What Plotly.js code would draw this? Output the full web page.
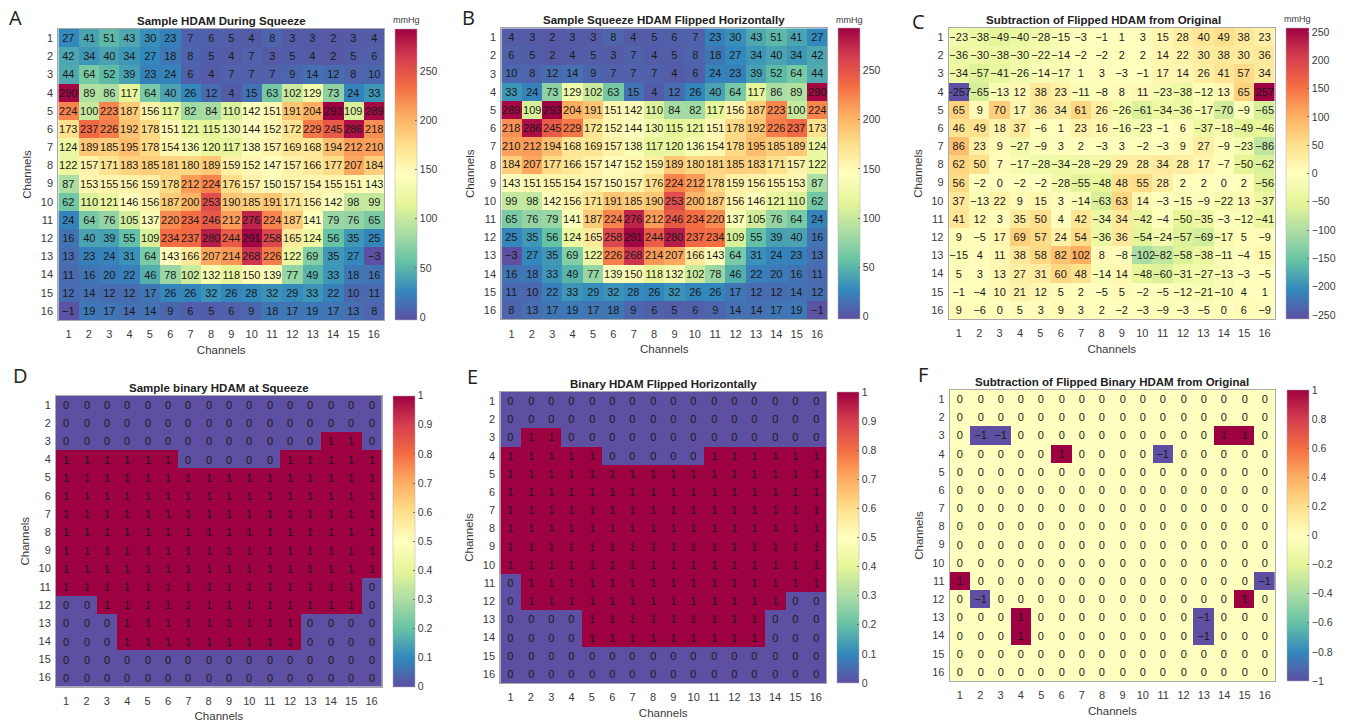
<!DOCTYPE html>
<html><head><meta charset="utf-8">
<script src="https://cdn.plot.ly/plotly-3.0.1.min.js"></script>
<style>html,body{margin:0;padding:0;background:#fff}#chart{width:1345px;height:722px}</style>
</head><body><div id="chart"></div>
<script>
const channels = [1,2,3,4,5,6,7,8,9,10,11,12,13,14,15,16];

const squeezeOriginal = [
[27,41,51,43,30,23,7,6,5,4,8,3,3,2,3,4],
[42,34,40,34,27,18,8,5,4,7,3,5,4,2,5,6],
[44,64,52,39,23,24,6,4,7,7,7,9,14,12,8,10],
[290,89,86,117,64,40,26,12,4,15,63,102,129,73,24,33],
[224,100,223,187,156,117,82,84,110,142,151,191,204,293,109,289],
[173,237,226,192,178,151,121,115,130,144,152,172,229,245,286,218],
[124,189,185,195,178,154,136,120,117,138,157,169,168,194,212,210],
[122,157,171,183,185,181,180,189,159,152,147,157,166,177,207,184],
[87,153,155,156,159,178,212,224,176,157,150,157,154,155,151,143],
[62,110,121,146,156,187,200,253,190,185,191,171,156,142,98,99],
[24,64,76,105,137,220,234,246,212,276,224,187,141,79,76,65],
[16,40,39,55,109,234,237,280,244,291,258,165,124,56,35,25],
[13,23,24,31,64,143,166,207,214,268,226,122,69,35,27,-3],
[11,16,20,22,46,78,102,132,118,150,139,77,49,33,18,16],
[12,14,12,12,17,26,26,32,26,28,32,29,33,22,10,11],
[-1,19,17,14,14,9,6,5,6,9,18,17,19,17,13,8]];

const squeezeFlipped = [
[4,3,2,3,3,8,4,5,6,7,23,30,43,51,41,27],
[6,5,2,4,5,3,7,4,5,8,18,27,34,40,34,42],
[10,8,12,14,9,7,7,7,4,6,24,23,39,52,64,44],
[33,24,73,129,102,63,15,4,12,26,40,64,117,86,89,290],
[289,109,293,204,191,151,142,110,84,82,117,156,187,223,100,224],
[218,286,245,229,172,152,144,130,115,121,151,178,192,226,237,173],
[210,212,194,168,169,157,138,117,120,136,154,178,195,185,189,124],
[184,207,177,166,157,147,152,159,189,180,181,185,183,171,157,122],
[143,151,155,154,157,150,157,176,224,212,178,159,156,155,153,87],
[99,98,142,156,171,191,185,190,253,200,187,156,146,121,110,62],
[65,76,79,141,187,224,276,212,246,234,220,137,105,76,64,24],
[25,35,56,124,165,258,291,244,280,237,234,109,55,39,40,16],
[-3,27,35,69,122,226,268,214,207,166,143,64,31,24,23,13],
[16,18,33,49,77,139,150,118,132,102,78,46,22,20,16,11],
[11,10,22,33,29,32,28,26,32,26,26,17,12,12,14,12],
[8,13,17,19,17,18,9,6,5,6,9,14,14,17,19,-1]];

const squeezeDifference = [
[-23,-38,-49,-40,-28,-15,-3,-1,1,3,15,28,40,49,38,23],
[-36,-30,-38,-30,-22,-14,-2,-2,2,2,14,22,30,38,30,36],
[-34,-57,-41,-26,-14,-17,1,3,-3,-1,17,14,26,41,57,34],
[-257,-65,-13,12,38,23,-11,-8,8,11,-23,-38,-12,13,65,257],
[65,9,70,17,36,34,61,26,-26,-61,-34,-36,-17,-70,-9,-65],
[46,49,18,37,-6,1,23,16,-16,-23,-1,6,-37,-18,-49,-46],
[86,23,9,-27,-9,3,2,-3,3,-2,-3,9,27,-9,-23,-86],
[62,50,7,-17,-28,-34,-28,-29,29,28,34,28,17,-7,-50,-62],
[56,-2,0,-2,-2,-28,-55,-48,48,55,28,2,2,0,2,-56],
[37,-13,22,9,15,3,-14,-63,63,14,-3,-15,-9,-22,13,-37],
[41,12,3,35,50,4,42,-34,34,-42,-4,-50,-35,-3,-12,-41],
[9,-5,17,69,57,24,54,-36,36,-54,-24,-57,-69,-17,5,-9],
[-15,4,11,38,58,82,102,8,-8,-102,-82,-58,-38,-11,-4,15],
[5,3,13,27,31,60,48,-14,14,-48,-60,-31,-27,-13,-3,-5],
[-1,-4,10,21,12,5,2,-5,5,-2,-5,-12,-21,-10,4,1],
[9,-6,0,5,3,9,3,2,-2,-3,-9,-3,-5,0,6,-9]];

const binaryOriginal = [
[0,0,0,0,0,0,0,0,0,0,0,0,0,0,0,0],
[0,0,0,0,0,0,0,0,0,0,0,0,0,0,0,0],
[0,0,0,0,0,0,0,0,0,0,0,0,0,1,1,0],
[1,1,1,1,1,1,0,0,0,0,0,1,1,1,1,1],
[1,1,1,1,1,1,1,1,1,1,1,1,1,1,1,1],
[1,1,1,1,1,1,1,1,1,1,1,1,1,1,1,1],
[1,1,1,1,1,1,1,1,1,1,1,1,1,1,1,1],
[1,1,1,1,1,1,1,1,1,1,1,1,1,1,1,1],
[1,1,1,1,1,1,1,1,1,1,1,1,1,1,1,1],
[1,1,1,1,1,1,1,1,1,1,1,1,1,1,1,1],
[1,1,1,1,1,1,1,1,1,1,1,1,1,1,1,0],
[0,0,1,1,1,1,1,1,1,1,1,1,1,1,1,0],
[0,0,0,1,1,1,1,1,1,1,1,1,0,0,0,0],
[0,0,0,1,1,1,1,1,1,1,1,1,0,0,0,0],
[0,0,0,0,0,0,0,0,0,0,0,0,0,0,0,0],
[0,0,0,0,0,0,0,0,0,0,0,0,0,0,0,0]];

const binaryFlipped = [
[0,0,0,0,0,0,0,0,0,0,0,0,0,0,0,0],
[0,0,0,0,0,0,0,0,0,0,0,0,0,0,0,0],
[0,1,1,0,0,0,0,0,0,0,0,0,0,0,0,0],
[1,1,1,1,1,0,0,0,0,0,1,1,1,1,1,1],
[1,1,1,1,1,1,1,1,1,1,1,1,1,1,1,1],
[1,1,1,1,1,1,1,1,1,1,1,1,1,1,1,1],
[1,1,1,1,1,1,1,1,1,1,1,1,1,1,1,1],
[1,1,1,1,1,1,1,1,1,1,1,1,1,1,1,1],
[1,1,1,1,1,1,1,1,1,1,1,1,1,1,1,1],
[1,1,1,1,1,1,1,1,1,1,1,1,1,1,1,1],
[0,1,1,1,1,1,1,1,1,1,1,1,1,1,1,1],
[0,1,1,1,1,1,1,1,1,1,1,1,1,1,0,0],
[0,0,0,0,1,1,1,1,1,1,1,1,1,0,0,0],
[0,0,0,0,1,1,1,1,1,1,1,1,1,0,0,0],
[0,0,0,0,0,0,0,0,0,0,0,0,0,0,0,0],
[0,0,0,0,0,0,0,0,0,0,0,0,0,0,0,0]];

const binaryDifference = [
[0,0,0,0,0,0,0,0,0,0,0,0,0,0,0,0],
[0,0,0,0,0,0,0,0,0,0,0,0,0,0,0,0],
[0,-1,-1,0,0,0,0,0,0,0,0,0,0,1,1,0],
[0,0,0,0,0,1,0,0,0,0,-1,0,0,0,0,0],
[0,0,0,0,0,0,0,0,0,0,0,0,0,0,0,0],
[0,0,0,0,0,0,0,0,0,0,0,0,0,0,0,0],
[0,0,0,0,0,0,0,0,0,0,0,0,0,0,0,0],
[0,0,0,0,0,0,0,0,0,0,0,0,0,0,0,0],
[0,0,0,0,0,0,0,0,0,0,0,0,0,0,0,0],
[0,0,0,0,0,0,0,0,0,0,0,0,0,0,0,0],
[1,0,0,0,0,0,0,0,0,0,0,0,0,0,0,-1],
[0,-1,0,0,0,0,0,0,0,0,0,0,0,0,1,0],
[0,0,0,1,0,0,0,0,0,0,0,0,-1,0,0,0],
[0,0,0,1,0,0,0,0,0,0,0,0,-1,0,0,0],
[0,0,0,0,0,0,0,0,0,0,0,0,0,0,0,0],
[0,0,0,0,0,0,0,0,0,0,0,0,0,0,0,0]];

const W = 1345, H = 722;
const FONT = '"Liberation Sans", Arial, sans-serif';
const INK = '#3a3a3a';
const spectral = [[0,'#5e4fa2'],[0.1,'#3288bd'],[0.2,'#66c2a5'],[0.3,'#abdda4'],[0.4,'#e6f598'],
  [0.5,'#ffffbf'],[0.6,'#fee08b'],[0.7,'#fdae61'],[0.8,'#f46d43'],[0.9,'#d53e4f'],[1,'#9e0142']];

const panels = [
 {z:squeezeOriginal,  title:'Sample HDAM During Squeeze', letter:'A', lx:15, ly:18, tx:221, ty:21,
  box:[58.3,384,29,320],  bar:[395.3,417.3], zmin:-3, zmax:293, dtick:50, unit:'mmHg', ux:406, uy:20},
 {z:squeezeFlipped,   title:'Sample Squeeze HDAM Flipped Horizontally', letter:'B', lx:468, ly:18, tx:664, ty:20,
  box:[501.3,827.3,28.3,319.3], bar:[838.3,860.7], zmin:-3, zmax:293, dtick:50, unit:'mmHg', ux:849, uy:20},
 {z:squeezeDifference,title:'Subtraction of Flipped HDAM from Original', letter:'C', lx:918, ly:21, tx:1103, ty:20,
  box:[948.7,1274.7,28,319], bar:[1285.7,1308.3], zmin:-257, zmax:257, dtick:50, unit:'mmHg', ux:1297, uy:19},
 {z:binaryOriginal,   title:'Sample binary HDAM at Squeeze', letter:'D', lx:20, ly:375, tx:219, ty:388,
  box:[56,381.7,395.7,686.7], bar:[393.3,415.7], zmin:0, zmax:1, dtick:0.1},
 {z:binaryFlipped,    title:'Binary HDAM Flipped Horizontally', letter:'E', lx:472, ly:376, tx:663, ty:384,
  box:[500.3,826,392,683], bar:[837.3,859.7], zmin:0, zmax:1, dtick:0.1},
 {z:binaryDifference, title:'Subtraction of Flipped Binary HDAM from Original', letter:'F', lx:923, ly:374, tx:1112, ty:382,
  box:[949.7,1275,390,681], bar:[1286.7,1309], zmin:-1, zmax:1, dtick:0.2}
];

const traces = [], annotations = [];
const layout = {width:W, height:H, margin:{l:0,r:0,t:0,b:0}, paper_bgcolor:'#fff', plot_bgcolor:'#fff',
  showlegend:false, font:{family:FONT, color:INK}, annotations};

panels.forEach((p,i)=>{
  const n = i===0 ? '' : String(i+1);
  const [x0,x1,y0,y1] = p.box;
  traces.push({type:'heatmap', x:channels, y:channels, z:p.z, xaxis:'x'+n, yaxis:'y'+n,
    colorscale:spectral, zmin:p.zmin, zmax:p.zmax, zauto:false, hoverinfo:'skip',
    texttemplate:'%{z}', textfont:{family:FONT, size:11, color:'#1a1a1a'},
    colorbar:{x:p.bar[0]/W, xanchor:'left', xpad:0, y:1-y1/H, yanchor:'bottom', ypad:0,
      lenmode:'fraction', len:(y1-y0)/H, thicknessmode:'pixels', thickness:p.bar[1]-p.bar[0],
      outlinewidth:0.5, outlinecolor:'#b0b0b0', tick0:0, dtick:p.dtick, ticks:'inside', ticklen:2,
      tickcolor:'#666', tickfont:{family:FONT, size:10.5, color:INK}}});
  const axis = {showgrid:false, zeroline:false, showline:true, mirror:true, linecolor:'#a9a9a9', linewidth:1,
    ticks:'', tickmode:'array', tickvals:channels, ticktext:channels.map(String),
    tickfont:{family:FONT, size:11, color:INK}, automargin:false, fixedrange:true};
  layout['xaxis'+n] = {...axis, anchor:'y'+n, domain:[x0/W,x1/W], range:[0.5,16.5], ticklabelstandoff:4,
    title:{text:'Channels', font:{family:FONT,size:11.5,color:INK}, standoff:6}};
  layout['yaxis'+n] = {...axis, anchor:'x'+n, domain:[1-y1/H,1-y0/H], range:[16.5,0.5], ticklabelstandoff:2,
    title:{text:'Channels', font:{family:FONT,size:11.5,color:INK}, standoff:6}};
  annotations.push({xref:'paper',yref:'paper',x:p.tx/W,y:1-p.ty/H,xanchor:'center',yanchor:'middle',showarrow:false,
    text:'<b>'+p.title+'</b>', font:{family:FONT,size:11.5,color:'#222'}});
  annotations.push({xref:'paper',yref:'paper',x:p.lx/W,y:1-p.ly/H,xanchor:'center',yanchor:'middle',showarrow:false,
    text:p.letter, font:{family:'"Open Sans", sans-serif',size:20,color:'#222'}});
  if(p.unit) annotations.push({xref:'paper',yref:'paper',x:p.ux/W,y:1-p.uy/H,xanchor:'center',yanchor:'middle',showarrow:false,
    text:p.unit, font:{family:FONT,size:9,color:INK}});
});

Plotly.newPlot('chart', traces, layout, {staticPlot:true, displayModeBar:false});
</script></body></html>
